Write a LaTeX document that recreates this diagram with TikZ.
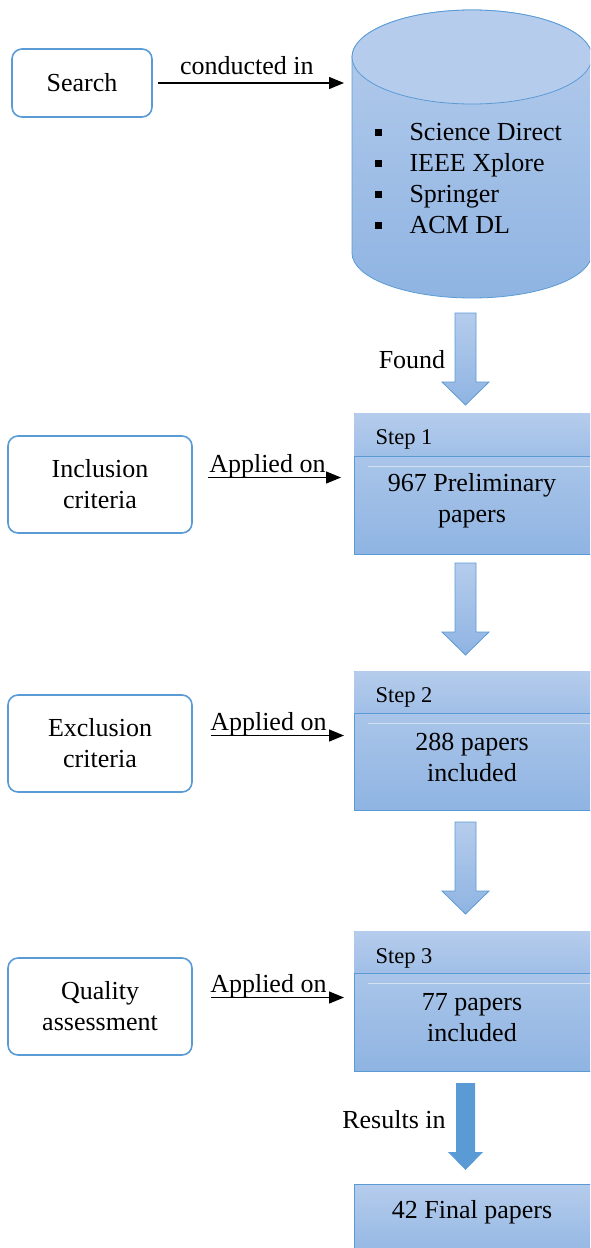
\documentclass[tikz,border=0pt]{standalone}
\usepackage{fontspec}
\setmainfont{Liberation Serif}
\usetikzlibrary{arrows.meta}

\definecolor{lineblue}{RGB}{91,155,213}
\definecolor{toplight}{RGB}{181,204,236}
\definecolor{midblue}{RGB}{160,191,231}
\definecolor{botdark}{RGB}{143,180,226}

\tikzset{
  bigtxt/.style={font=\fontsize{26}{31}\selectfont, align=center},
  smalltxt/.style={font=\fontsize{22.5}{27}\selectfont},
  actbox/.style={draw=lineblue, line width=1.6pt, rounded corners=10pt, fill=white,
    minimum width=184pt, minimum height=97pt, bigtxt},
  stepbox/.style={draw=lineblue, line width=0.8pt, top color=toplight, bottom color=botdark,
    minimum width=260pt, anchor=north west},
  headbar/.style={top color=toplight, bottom color=midblue},
  link/.style={-{Triangle[length=15pt,width=12pt]}, line width=1.3pt},
  blockarr/.style={draw=lineblue, line width=0.8pt, top color=toplight, bottom color=botdark},
  bullet/.style={fill=black, minimum size=7pt, inner sep=0pt}
}

\begin{document}
\begin{tikzpicture}[x=1pt,y=-1pt]
  \useasboundingbox (0,0) rectangle (590,1248);
  \clip (0,0) rectangle (590,1248);

  % search and the databases
  \node[actbox, minimum width=140pt, minimum height=68pt] (search) at (82,83) {Search};
  \path[blockarr] (352,57) -- (352,253)
    arc[start angle=180, end angle=360, x radius=120pt, y radius=45pt]
    -- (592,57) arc[start angle=0, end angle=180, x radius=120pt, y radius=47pt] -- cycle;
  \draw[lineblue, line width=0.8pt, fill=toplight] (472,57) ellipse[x radius=120pt, y radius=47pt];
  \coordinate (db) at (352,83);
  \foreach \lib [count=\i] in {Science Direct, IEEE Xplore, Springer, ACM DL} {
    \node[bullet] (b\i) at (378,101+31*\i) {};
    \node[bigtxt, anchor=base west] (lib\i) at (406,109+31*\i) {\lib};
  }
  \draw[link] ([xshift=5pt]search.east) -- ([xshift=-8pt]db)
    node[midway, above, bigtxt, yshift=4pt, xshift=-4pt] {conducted in};

  % found
  \path[blockarr] (455,313) -- (476,313) -- (476,382) -- (489,382) -- (465.5,405)
    -- (442,382) -- (455,382) -- cycle;
  \node[bigtxt] (found) at (412,360) {Found};

  % step 1
  \node[stepbox, minimum height=141pt] (step1) at (354,413) {};
  \path[headbar] (354.4,413.4) rectangle (600,456);
  \draw[lineblue, line width=0.6pt] (354,456) -- (600,456);
  \draw[white, opacity=0.5, line width=0.8pt] (368,466) -- (600,466);
  \node[smalltxt, anchor=west] (s1) at (372,439) {Step 1};
  \node[bigtxt] (p1) at (472,501) {967 Preliminary\\papers};
  \node[actbox] (incl) at (100,484.5) {Inclusion\\criteria};
  \draw[link] ([shift={(15pt,7pt)}]incl.east) -- ([shift={(-13pt,7pt)}]step1.west |- incl.east)
    node[midway, above, bigtxt, yshift=-5pt, xshift=-7pt] {Applied on};

  \path[blockarr] (455,563) -- (476,563) -- (476,632) -- (489,632) -- (465.5,655)
    -- (442,632) -- (455,632) -- cycle;

  % step 2
  \node[stepbox, minimum height=139pt] (step2) at (354,671) {};
  \path[headbar] (354.4,671.4) rectangle (600,713);
  \draw[lineblue, line width=0.6pt] (354,713) -- (600,713);
  \draw[white, opacity=0.5, line width=0.8pt] (368,723) -- (600,723);
  \node[smalltxt, anchor=west] (s2) at (372,697) {Step 2};
  \node[bigtxt] (p2) at (472,757) {288 papers\\included};
  \node[actbox] (excl) at (100,743.5) {Exclusion\\criteria};
  \draw[link] ([shift={(18pt,8pt)}]excl.east) -- ([shift={(-10pt,8pt)}]step2.west |- excl.east)
    node[midway, above, bigtxt, yshift=-5pt, xshift=-9pt] {Applied on};

  \path[blockarr] (455,822) -- (476,822) -- (476,891) -- (489,891) -- (465.5,914)
    -- (442,891) -- (455,891) -- cycle;

  % step 3
  \node[stepbox, minimum height=140pt] (step3) at (354,931) {};
  \path[headbar] (354.4,931.4) rectangle (600,973);
  \draw[lineblue, line width=0.6pt] (354,973) -- (600,973);
  \draw[white, opacity=0.5, line width=0.8pt] (368,983) -- (600,983);
  \node[smalltxt, anchor=west] (s3) at (372,958) {Step 3};
  \node[bigtxt] (p3) at (472,1018) {77 papers\\included};
  \node[actbox] (qual) at (100,1006.5) {Quality\\assessment};
  \draw[link] ([shift={(18pt,9pt)}]qual.east) -- ([shift={(-10pt,9pt)}]step3.west |- qual.east)
    node[midway, above, bigtxt, yshift=-5pt, xshift=-9pt] {Applied on};

  % results
  \fill[lineblue] (456,1083) -- (475,1083) -- (475,1152) -- (483,1152) -- (465.5,1170)
    -- (448,1152) -- (456,1152) -- cycle;
  \node[bigtxt] (res) at (394,1120) {Results in};
  \node[stepbox, minimum height=80pt] (final) at (354,1184) {};
  \node[bigtxt] (p4) at (472,1212) {42 Final papers};
\end{tikzpicture}
\end{document}
